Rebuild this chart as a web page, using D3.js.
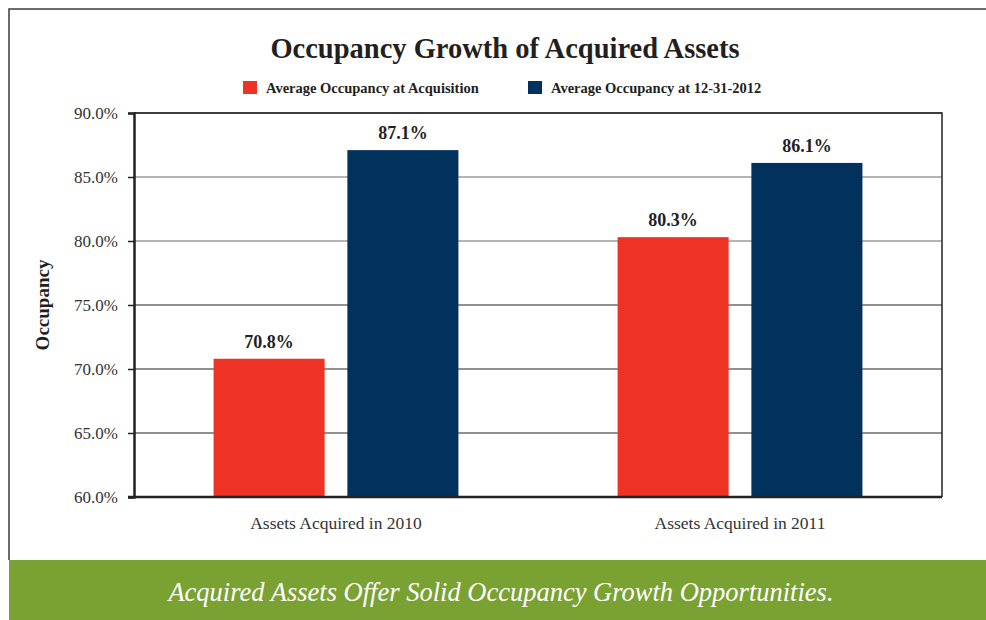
<!DOCTYPE html>
<html lang="en">
<head>
<meta charset="utf-8" />
<title>Occupancy Growth of Acquired Assets</title>
<script src="https://d3js.org/d3.v7.min.js"></script>
<style>
  body { margin: 0; background: #fff; }
  svg { display: block; font-family: "Liberation Serif", "DejaVu Serif", serif; }
</style>
</head>
<body>
<div id="chart"></div>
<script>
var width = 986, height = 620;

// data
var categories = ["Assets Acquired in 2010", "Assets Acquired in 2011"];
var seriesNames = ["Average Occupancy at Acquisition", "Average Occupancy at 12-31-2012"];
var seriesColors = ["#ee3224", "#00325d"];
var atAcquisition = [70.8, 80.3];
var atYearEnd = [87.1, 86.1];
var yTicks = [60, 65, 70, 75, 80, 85, 90];

var margin = {left: 134, right: 44, top: 113, bottom: 123};

var svg = d3.select("#chart").append("svg")
    .attr("width", width)
    .attr("height", height);

// outer frame lines
svg.append("path")
    .attr("d", "M9,560 V9 H986")
    .attr("fill", "none")
    .attr("stroke", "#3a3a3a")
    .attr("stroke-width", 1.5);

var x0 = d3.scaleBand()
    .domain(categories)
    .range([margin.left, width - margin.right])
    .paddingInner(0.394)
    .paddingOuter(0.197);

var x1 = d3.scaleBand()
    .domain(seriesNames)
    .range([0, x0.bandwidth()])
    .paddingInner(0.17);

var y = d3.scaleLinear()
    .domain([60, 90])
    .range([height - margin.bottom, margin.top]);

// grid lines
svg.append("g")
  .selectAll("line")
  .data(yTicks)
  .join("line")
    .attr("x1", margin.left)
    .attr("x2", width - margin.right)
    .attr("y1", d => y(d))
    .attr("y2", d => y(d))
    .attr("stroke", d => (d == 80 || d == 85) ? "#6a6a6a" : "#222")
    .attr("stroke-width", 1);

// bars
var rows = categories.map((c, i) => ({cat: c, vals: [atAcquisition[i], atYearEnd[i]]}));

var groups = svg.append("g")
  .selectAll("g")
  .data(rows)
  .join("g")
    .attr("transform", d => "translate(" + x0(d.cat) + ",0)");

groups.selectAll("rect")
  .data(d => d.vals.map((v, j) => ({name: seriesNames[j], v: v, j: j})))
  .join("rect")
    .attr("x", d => x1(d.name))
    .attr("y", d => y(d.v))
    .attr("width", x1.bandwidth())
    .attr("height", d => y(60) - y(d.v))
    .attr("fill", d => seriesColors[d.j]);

groups.selectAll("text")
  .data(d => d.vals.map((v, j) => ({name: seriesNames[j], v: v})))
  .join("text")
    .attr("x", d => x1(d.name) + x1.bandwidth() / 2)
    .attr("y", d => y(d.v) - 11)
    .attr("text-anchor", "middle")
    .attr("font-size", 18)
    .attr("font-weight", "bold")
    .attr("fill", "#231f20")
    .text(d => d.v.toFixed(1) + "%");

// plot frame (top and right)
svg.append("path")
    .attr("d", "M" + margin.left + "," + y(90) + " H" + (width - margin.right) + " V" + y(60))
    .attr("fill", "none")
    .attr("stroke", "#222")
    .attr("stroke-width", 1.5);

// y axis
var yAxis = svg.append("g")
    .attr("transform", "translate(" + margin.left + ",0)")
    .call(d3.axisLeft(y).tickValues(yTicks).tickSize(6).tickPadding(10)
        .tickFormat(d => d.toFixed(1) + "%"));
yAxis.attr("font-family", null);
yAxis.select(".domain").attr("stroke", "#222").attr("stroke-width", 2.5);
yAxis.selectAll(".tick line").attr("stroke", "#222").attr("stroke-width", 1.5);
yAxis.selectAll(".tick text")
    .attr("font-size", 17)
    .attr("fill", "#333");

// x axis baseline
svg.append("line")
    .attr("x1", margin.left - 6)
    .attr("x2", width - margin.right)
    .attr("y1", y(60))
    .attr("y2", y(60))
    .attr("stroke", "#222")
    .attr("stroke-width", 2.5);

// category labels
svg.append("g")
  .selectAll("text")
  .data(categories)
  .join("text")
    .attr("x", d => x0(d) + x0.bandwidth() / 2)
    .attr("y", y(60) + 32)
    .attr("text-anchor", "middle")
    .attr("font-size", 17.5)
    .attr("fill", "#333")
    .text(d => d);

// y axis title
svg.append("text")
    .attr("transform", "translate(49," + ((y(60) + y(90)) / 2) + ") rotate(-90)")
    .attr("text-anchor", "middle")
    .attr("font-size", 19)
    .attr("font-weight", "bold")
    .attr("fill", "#231f20")
    .text("Occupancy");

// title
svg.append("text")
    .attr("x", 505)
    .attr("y", 58)
    .attr("text-anchor", "middle")
    .attr("font-size", 28.5)
    .attr("font-weight", "bold")
    .attr("fill", "#231f20")
    .text("Occupancy Growth of Acquired Assets");

// legend
var legendX = [243, 528];
var legend = svg.append("g")
  .selectAll("g")
  .data(seriesNames)
  .join("g")
    .attr("transform", (d, i) => "translate(" + legendX[i] + ",81)");
legend.append("rect")
    .attr("width", 14)
    .attr("height", 13)
    .attr("fill", (d, i) => seriesColors[i]);
legend.append("text")
    .attr("x", 23)
    .attr("y", 12)
    .attr("font-size", 14.5)
    .attr("font-weight", "bold")
    .attr("fill", "#231f20")
    .text(d => d);

// green banner
svg.append("rect")
    .attr("x", 9)
    .attr("y", 560)
    .attr("width", width - 9)
    .attr("height", 60)
    .attr("fill", "#7aa232");
svg.append("text")
    .attr("x", 501)
    .attr("y", 601)
    .attr("text-anchor", "middle")
    .attr("font-size", 26.5)
    .attr("font-style", "italic")
    .attr("fill", "#fff")
    .text("Acquired Assets Offer Solid Occupancy Growth Opportunities.");
</script>
</body>
</html>
